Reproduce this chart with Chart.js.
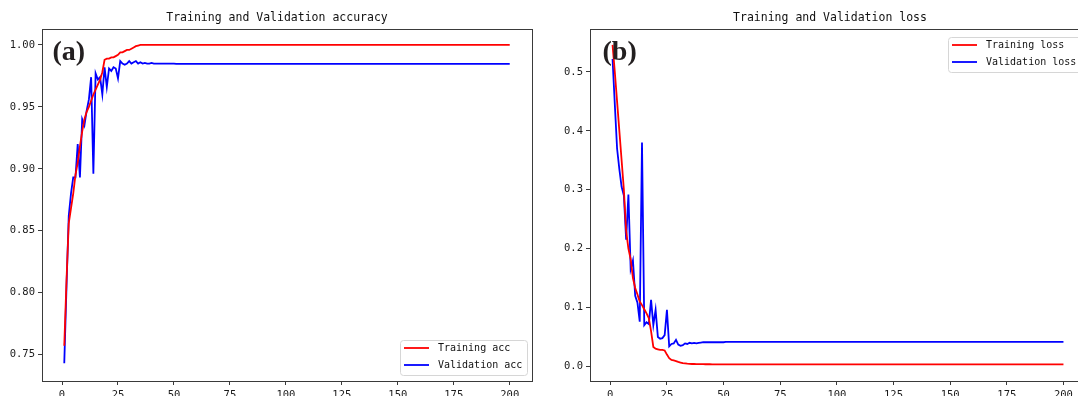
<!DOCTYPE html>
<html>
<head>
<meta charset="UTF-8">
<title>Training and Validation</title>
<script src="https://cdn.jsdelivr.net/npm/chart.js"></script>
<style>
  html, body { margin: 0; padding: 0; background: #fff; overflow: hidden; }
  canvas { position: absolute; top: 0; }
</style>
</head>
<body>
<canvas id="accChart" width="540" height="396" style="left:0"></canvas>
<canvas id="lossChart" width="545" height="396" style="left:548px"></canvas>

<script>
// values, one per epoch (1..200)
const accTrain = [
  0.757, 0.810, 0.856, 0.868, 0.880, 0.895, 0.905, 0.918, 0.930, 0.940,
  0.946, 0.950, 0.955, 0.960, 0.964, 0.968, 0.972, 0.978, 0.988, 0.989,
  0.989, 0.990, 0.990, 0.991, 0.992, 0.994, 0.994, 0.995, 0.996, 0.996,
  0.997, 0.998, 0.999, 0.9995, 1, 1, 1, 1, 1, 1,
  1, 1, 1, 1, 1, 1, 1, 1, 1, 1, 1, 1, 1, 1, 1, 1, 1, 1, 1, 1,
  1, 1, 1, 1, 1, 1, 1, 1, 1, 1, 1, 1, 1, 1, 1, 1, 1, 1, 1, 1,
  1, 1, 1, 1, 1, 1, 1, 1, 1, 1, 1, 1, 1, 1, 1, 1, 1, 1, 1, 1,
  1, 1, 1, 1, 1, 1, 1, 1, 1, 1, 1, 1, 1, 1, 1, 1, 1, 1, 1, 1,
  1, 1, 1, 1, 1, 1, 1, 1, 1, 1, 1, 1, 1, 1, 1, 1, 1, 1, 1, 1,
  1, 1, 1, 1, 1, 1, 1, 1, 1, 1, 1, 1, 1, 1, 1, 1, 1, 1, 1, 1,
  1, 1, 1, 1, 1, 1, 1, 1, 1, 1, 1, 1, 1, 1, 1, 1, 1, 1, 1, 1,
  1, 1, 1, 1, 1, 1, 1, 1, 1, 1, 1, 1, 1, 1, 1, 1, 1, 1, 1, 1
];
const accVal = [
  0.743, 0.805, 0.862, 0.880, 0.893, 0.893, 0.920, 0.893, 0.940, 0.935,
  0.947, 0.956, 0.974, 0.896, 0.977, 0.972, 0.974, 0.960, 0.982, 0.966,
  0.981, 0.979, 0.982, 0.981, 0.973, 0.987, 0.985, 0.984, 0.985, 0.987,
  0.985, 0.986, 0.987, 0.985, 0.986, 0.985, 0.9855, 0.985, 0.985, 0.9855,
  0.985, 0.985, 0.985, 0.985, 0.985, 0.985, 0.985, 0.985, 0.985, 0.985,
  0.9848, 0.9848, 0.9848, 0.9848, 0.9848, 0.9848, 0.9848, 0.9848, 0.9848, 0.9848,
  0.9848, 0.9848, 0.9848, 0.9848, 0.9848, 0.9848, 0.9848, 0.9848, 0.9848, 0.9848,
  0.9848, 0.9848, 0.9848, 0.9848, 0.9848, 0.9848, 0.9848, 0.9848, 0.9848, 0.9848,
  0.9848, 0.9848, 0.9848, 0.9848, 0.9848, 0.9848, 0.9848, 0.9848, 0.9848, 0.9848,
  0.9848, 0.9848, 0.9848, 0.9848, 0.9848, 0.9848, 0.9848, 0.9848, 0.9848, 0.9848,
  0.9848, 0.9848, 0.9848, 0.9848, 0.9848, 0.9848, 0.9848, 0.9848, 0.9848, 0.9848,
  0.9848, 0.9848, 0.9848, 0.9848, 0.9848, 0.9848, 0.9848, 0.9848, 0.9848, 0.9848,
  0.9848, 0.9848, 0.9848, 0.9848, 0.9848, 0.9848, 0.9848, 0.9848, 0.9848, 0.9848,
  0.9848, 0.9848, 0.9848, 0.9848, 0.9848, 0.9848, 0.9848, 0.9848, 0.9848, 0.9848,
  0.9848, 0.9848, 0.9848, 0.9848, 0.9848, 0.9848, 0.9848, 0.9848, 0.9848, 0.9848,
  0.9848, 0.9848, 0.9848, 0.9848, 0.9848, 0.9848, 0.9848, 0.9848, 0.9848, 0.9848,
  0.9848, 0.9848, 0.9848, 0.9848, 0.9848, 0.9848, 0.9848, 0.9848, 0.9848, 0.9848,
  0.9848, 0.9848, 0.9848, 0.9848, 0.9848, 0.9848, 0.9848, 0.9848, 0.9848, 0.9848,
  0.9848, 0.9848, 0.9848, 0.9848, 0.9848, 0.9848, 0.9848, 0.9848, 0.9848, 0.9848,
  0.9848, 0.9848, 0.9848, 0.9848, 0.9848, 0.9848, 0.9848, 0.9848, 0.9848, 0.9848
];
const lossTrain = [
  0.546, 0.500, 0.450, 0.400, 0.350, 0.300, 0.230, 0.200, 0.182, 0.150,
  0.133, 0.122, 0.110, 0.104, 0.097, 0.090, 0.082, 0.060, 0.033, 0.030,
  0.029, 0.028, 0.028, 0.027, 0.020, 0.014, 0.011, 0.010, 0.009, 0.0075,
  0.0065, 0.0055, 0.005, 0.0045, 0.0042, 0.004, 0.004, 0.0039, 0.0038, 0.0037,
  0.0037, 0.0036, 0.0036, 0.0036, 0.0035, 0.0035, 0.0035, 0.0035, 0.0035, 0.0035,
  0.0034, 0.0034, 0.0034, 0.0034, 0.0034, 0.0034, 0.0034, 0.0034, 0.0034, 0.0034,
  0.0034, 0.0034, 0.0034, 0.0034, 0.0034, 0.0034, 0.0034, 0.0034, 0.0034, 0.0034,
  0.0034, 0.0034, 0.0034, 0.0034, 0.0034, 0.0034, 0.0034, 0.0034, 0.0034, 0.0034,
  0.0034, 0.0034, 0.0034, 0.0034, 0.0034, 0.0034, 0.0034, 0.0034, 0.0034, 0.0034,
  0.0034, 0.0034, 0.0034, 0.0034, 0.0034, 0.0034, 0.0034, 0.0034, 0.0034, 0.0034,
  0.0034, 0.0034, 0.0034, 0.0034, 0.0034, 0.0034, 0.0034, 0.0034, 0.0034, 0.0034,
  0.0034, 0.0034, 0.0034, 0.0034, 0.0034, 0.0034, 0.0034, 0.0034, 0.0034, 0.0034,
  0.0034, 0.0034, 0.0034, 0.0034, 0.0034, 0.0034, 0.0034, 0.0034, 0.0034, 0.0034,
  0.0034, 0.0034, 0.0034, 0.0034, 0.0034, 0.0034, 0.0034, 0.0034, 0.0034, 0.0034,
  0.0034, 0.0034, 0.0034, 0.0034, 0.0034, 0.0034, 0.0034, 0.0034, 0.0034, 0.0034,
  0.0034, 0.0034, 0.0034, 0.0034, 0.0034, 0.0034, 0.0034, 0.0034, 0.0034, 0.0034,
  0.0034, 0.0034, 0.0034, 0.0034, 0.0034, 0.0034, 0.0034, 0.0034, 0.0034, 0.0034,
  0.0034, 0.0034, 0.0034, 0.0034, 0.0034, 0.0034, 0.0034, 0.0034, 0.0034, 0.0034,
  0.0034, 0.0034, 0.0034, 0.0034, 0.0034, 0.0034, 0.0034, 0.0034, 0.0034, 0.0034,
  0.0034, 0.0034, 0.0034, 0.0034, 0.0034, 0.0034, 0.0034, 0.0034, 0.0034, 0.0034
];
const lossVal = [
  0.522, 0.445, 0.370, 0.335, 0.305, 0.290, 0.215, 0.292, 0.165, 0.180,
  0.120, 0.108, 0.076, 0.380, 0.070, 0.075, 0.072, 0.113, 0.070, 0.096,
  0.050, 0.047, 0.048, 0.053, 0.096, 0.034, 0.038, 0.039, 0.045, 0.037,
  0.035, 0.036, 0.039, 0.038, 0.040, 0.039, 0.040, 0.039, 0.040, 0.0405,
  0.041, 0.041, 0.041, 0.041, 0.041, 0.041, 0.041, 0.041, 0.041, 0.041,
  0.0415, 0.0415, 0.0415, 0.0415, 0.0415, 0.0415, 0.0415, 0.0415, 0.0415, 0.0415,
  0.0415, 0.0415, 0.0415, 0.0415, 0.0415, 0.0415, 0.0415, 0.0415, 0.0415, 0.0415,
  0.0415, 0.0415, 0.0415, 0.0415, 0.0415, 0.0415, 0.0415, 0.0415, 0.0415, 0.0415,
  0.0415, 0.0415, 0.0415, 0.0415, 0.0415, 0.0415, 0.0415, 0.0415, 0.0415, 0.0415,
  0.0415, 0.0415, 0.0415, 0.0415, 0.0415, 0.0415, 0.0415, 0.0415, 0.0415, 0.0415,
  0.0415, 0.0415, 0.0415, 0.0415, 0.0415, 0.0415, 0.0415, 0.0415, 0.0415, 0.0415,
  0.0415, 0.0415, 0.0415, 0.0415, 0.0415, 0.0415, 0.0415, 0.0415, 0.0415, 0.0415,
  0.0415, 0.0415, 0.0415, 0.0415, 0.0415, 0.0415, 0.0415, 0.0415, 0.0415, 0.0415,
  0.0415, 0.0415, 0.0415, 0.0415, 0.0415, 0.0415, 0.0415, 0.0415, 0.0415, 0.0415,
  0.0415, 0.0415, 0.0415, 0.0415, 0.0415, 0.0415, 0.0415, 0.0415, 0.0415, 0.0415,
  0.0415, 0.0415, 0.0415, 0.0415, 0.0415, 0.0415, 0.0415, 0.0415, 0.0415, 0.0415,
  0.0415, 0.0415, 0.0415, 0.0415, 0.0415, 0.0415, 0.0415, 0.0415, 0.0415, 0.0415,
  0.0415, 0.0415, 0.0415, 0.0415, 0.0415, 0.0415, 0.0415, 0.0415, 0.0415, 0.0415,
  0.0415, 0.0415, 0.0415, 0.0415, 0.0415, 0.0415, 0.0415, 0.0415, 0.0415, 0.0415,
  0.0415, 0.0415, 0.0415, 0.0415, 0.0415, 0.0415, 0.0415, 0.0415, 0.0415, 0.0415
];

const epochs = accTrain.map((_, i) => i + 1);
const xTicks = [0, 25, 50, 75, 100, 125, 150, 175, 200];
const accTicks = [0.75, 0.80, 0.85, 0.90, 0.95, 1.00];
const lossTicks = [0.0, 0.1, 0.2, 0.3, 0.4, 0.5];

const MONO = '"DejaVu Sans Mono", monospace';
const INK = '#1a1a1a';
const FRAME = '#3a3a3a';

// frame on all four sides, title, (a)/(b) tag and a matplotlib style legend
const decor = {
  id: 'decor',
  afterDraw(chart, args, opts) {
    const { ctx, chartArea: a } = chart;
    ctx.save();
    ctx.strokeStyle = FRAME;
    ctx.lineWidth = 1;
    ctx.strokeRect(Math.round(a.left) + 0.5, Math.round(a.top) + 0.5,
      Math.round(a.right - a.left), Math.round(a.bottom - a.top));

    ctx.fillStyle = '#111';
    ctx.font = '11.5px ' + MONO;
    ctx.textAlign = 'center';
    ctx.textBaseline = 'alphabetic';
    ctx.fillText(opts.title, opts.titleX, 21);

    ctx.fillStyle = '#231f20';
    ctx.font = 'bold 28px "Liberation Serif", "Times New Roman", serif';
    ctx.textAlign = 'left';
    ctx.fillText(opts.tag, opts.tagX, 60);

    // legend
    ctx.font = '10px ' + MONO;
    const sets = chart.data.datasets;
    const tw = Math.max(...sets.map(d => ctx.measureText(d.label).width));
    const w = Math.round(tw + 43), h = 35;
    const x0 = Math.round(a.right - 5 - w);
    const y0 = opts.corner === 'br' ? Math.round(a.bottom - 5.5 - h) : Math.round(a.top + 7.5);
    ctx.beginPath();
    ctx.roundRect(x0 + 0.5, y0 + 0.5, w, h, 3);
    ctx.fillStyle = 'rgba(255,255,255,0.85)';
    ctx.fill();
    ctx.strokeStyle = '#d6d6d6';
    ctx.stroke();
    sets.forEach((d, i) => {
      const y = y0 + 8 + i * 17;
      ctx.beginPath();
      ctx.moveTo(x0 + 4, y);
      ctx.lineTo(x0 + 29, y);
      ctx.strokeStyle = d.borderColor;
      ctx.lineWidth = 1.8;
      ctx.stroke();
      ctx.fillStyle = '#111';
      ctx.textBaseline = 'middle';
      ctx.fillText(d.label, x0 + 38, y + 0.5);
    });
    ctx.restore();
  }
};

function makeChart(id, labels, train, val, yMin, yMax, yTicks, yDigits, decorOpts, padRight) {
  const ds = (label, values, color) => ({
    label: label,
    data: values.map((v, i) => ({ x: epochs[i], y: v })),
    borderColor: color,
    backgroundColor: color,
    borderWidth: 1.8,
    pointRadius: 0,
    tension: 0,
    fill: false
  });
  return new Chart(document.getElementById(id), {
    type: 'line',
    data: { datasets: [ds(labels[0], train, '#ff0000'), ds(labels[1], val, '#0000ff')] },
    options: {
      responsive: false,
      animation: false,
      devicePixelRatio: 1,
      layout: { padding: { top: 29, right: padRight, bottom: 0, left: 0 } },
      plugins: { legend: { display: false }, tooltip: { enabled: false }, decor: decorOpts },
      scales: {
        x: {
          type: 'linear',
          min: -8.95,
          max: 209.95,
          afterBuildTicks: s => { s.ticks = xTicks.map(v => ({ value: v })); },
          afterFit: s => { s.height = 15.5; },
          border: { display: false },
          grid: { drawOnChartArea: false, tickLength: 4.5, tickColor: FRAME },
          ticks: { font: { family: MONO, size: 10.5 }, color: INK, padding: 4, maxRotation: 0, autoSkip: false,
                   callback: v => String(v) }
        },
        y: {
          min: yMin,
          max: yMax,
          afterBuildTicks: s => { s.ticks = yTicks.map(v => ({ value: v })); },
          afterFit: s => { s.width = 42; },
          border: { display: false },
          grid: { drawOnChartArea: false, tickLength: 4, tickColor: FRAME },
          ticks: { font: { family: MONO, size: 10.5 }, color: INK, padding: 3,
                   callback: v => Number(v).toFixed(yDigits) }
        }
      }
    },
    plugins: [decor]
  });
}

makeChart('accChart', ['Training acc', 'Validation acc'], accTrain, accVal,
  0.729, 1.0129, accTicks, 2,
  { title: 'Training and Validation accuracy', titleX: 277, tag: '(a)', tagX: 52.5, corner: 'br' }, 8);

makeChart('lossChart', ['Training loss', 'Validation loss'], lossTrain, lossVal,
  -0.024, 0.573, lossTicks, 1,
  { title: 'Training and Validation loss', titleX: 282, tag: '(b)', tagX: 54.5, corner: 'tr' }, 7);
</script>
</body>
</html>
